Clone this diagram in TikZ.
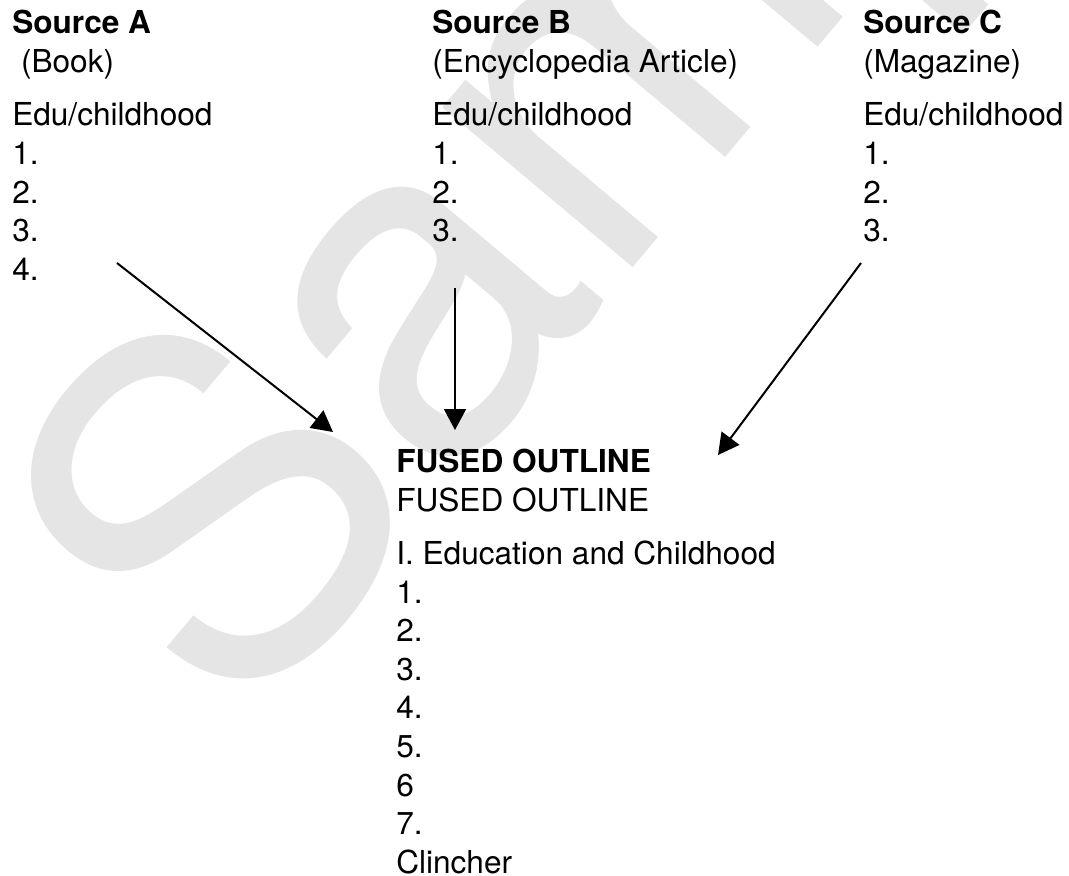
\documentclass[tikz,border=0pt]{standalone}
\usepackage{fontspec}
\setmainfont{TeX Gyre Heros}
\usetikzlibrary{arrows.meta,positioning}

\tikzset{
  outline/.style={anchor=north west,align=left,inner sep=0pt,font=\fontsize{23.7}{28.95}\selectfont},
  feed/.style={-{Triangle[length=15.75pt,width=16.5pt]},line width=1.5pt},
}

\begin{document}
\begin{tikzpicture}[x=0.75pt,y=-0.75pt]
  \clip (0,0) rectangle (1069,875);
  %% watermark
  \node[anchor=base west,rotate=50,text=black!10,inner sep=0pt,font=\fontsize{356}{356}\selectfont] (mark) at (238,738) {Sample};
  %% sources
  \node[outline] (srcA) at (12,10) {\textbf{Source A}\\\ (Book)\\[11.3pt]Edu/childhood\\1.\\2.\\3.\\4.};
  \node[outline] (srcB) at (432,10) {\textbf{Source B}\\(Encyclopedia Article)\\[11.3pt]Edu/childhood\\1.\\2.\\3.};
  \node[outline] (srcC) at (863,10) {\textbf{Source C}\\(Magazine)\\[11.3pt]Edu/childhood\\1.\\2.\\3.};
  %% fused outline
  \node[outline] (fused) at (396,449) {\textbf{FUSED OUTLINE}\\FUSED OUTLINE\\[10.9pt]I. Education and Childhood\\1.\\2.\\3.\\4.\\5.\\6\\7.\\Clincher};
  %% arrows
  \coordinate (fromA) at (117,263);
  \coordinate (toA) at (333,432);
  \coordinate (fromB) at (455,288);
  \coordinate (toB) at (455,430);
  \coordinate (fromC) at (861,263);
  \coordinate (toC) at (718,455);
  \draw[feed] (fromA) -- (toA);
  \draw[feed] (fromB) -- (toB);
  \draw[feed] (fromC) -- (toC);
\end{tikzpicture}
\end{document}
